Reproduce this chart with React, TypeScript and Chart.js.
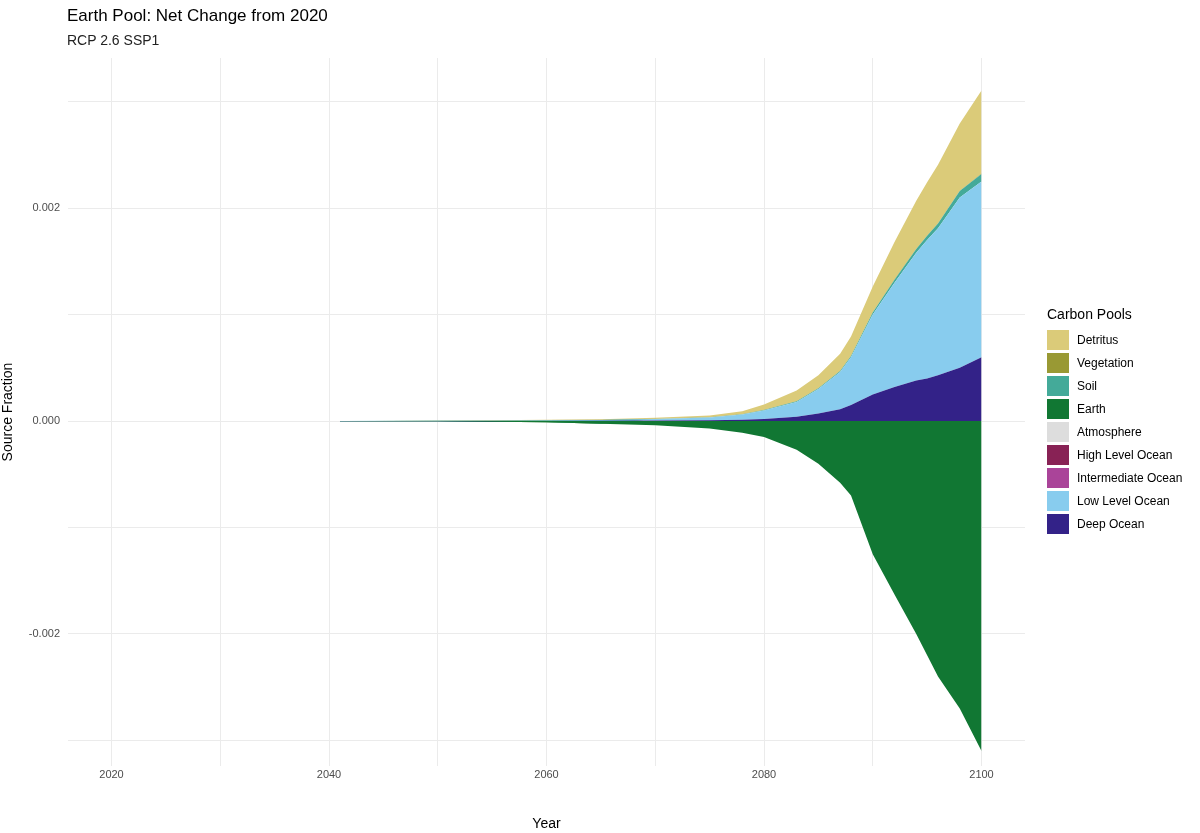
import React, { useEffect, useRef } from "react";
import { Chart, registerables } from "chart.js";
Chart.register(...registerables);

const years = [2041, 2050, 2055, 2060, 2065, 2070, 2075, 2078, 2080, 2083, 2085, 2087, 2088, 2090, 2092, 2094, 2095, 2096, 2098, 2100];
const deepOcean = [0, 0, 0, 0.000001, 0.000002, 0.000004, 0.000008, 0.000012, 0.00002, 0.00004, 0.00007, 0.00011, 0.00015, 0.00025, 0.00032, 0.00038, 0.0004, 0.00043, 0.0005, 0.0006];
const lowLevelOcean = [0.000001, 0.000002, 0.000003, 0.000005, 0.000008, 0.000015, 0.000025, 0.00005, 0.00008, 0.00014, 0.00023, 0.00035, 0.00045, 0.00075, 0.00098, 0.0012, 0.0013, 0.00138, 0.0016, 0.00165];
const soil = [0, 0, 0, 0, 0, 0.000001, 0.000002, 0.000003, 0.000004, 0.000006, 0.000008, 0.00001, 0.000012, 0.00002, 0.000028, 0.000036, 0.00004, 0.000045, 0.00006, 0.00007];
const vegetation = [0, 0.000001, 0.000002, 0.000003, 0.000002, 0.000002, 0.000002, 0.000002, 0.000002, 0.000002, 0.000002, 0.000002, 0.000002, 0.000003, 0.000003, 0.000003, 0.000003, 0.000003, 0.000004, 0.000004];
const detritus = [0, 0.000001, 0.000002, 0.000003, 0.000005, 0.000008, 0.000015, 0.000025, 0.00005, 0.0001, 0.00012, 0.00016, 0.00018, 0.00024, 0.00035, 0.00045, 0.0005, 0.00055, 0.00063, 0.00078];
const earth = [-0.000001, -0.000003, -0.000006, -0.000012, -0.000025, -0.00004, -0.00007, -0.00011, -0.00015, -0.00027, -0.0004, -0.00058, -0.0007, -0.00125, -0.00163, -0.002, -0.0022, -0.0024, -0.0027, -0.0031];
const zeros = years.map(() => 0);

const legendItems = [
  ["Detritus", "#dbcb79"],
  ["Vegetation", "#999934"],
  ["Soil", "#44aa99"],
  ["Earth", "#117733"],
  ["Atmosphere", "#dddddd"],
  ["High Level Ocean", "#882255"],
  ["Intermediate Ocean", "#aa4499"],
  ["Low Level Ocean", "#88ccee"],
  ["Deep Ocean", "#332288"],
];
const col = Object.fromEntries(legendItems);

export default function App() {
  const ref = useRef<HTMLCanvasElement>(null);
  useEffect(() => {
    const pts = (arr: number[]) => years.map((x, i) => ({ x, y: arr[i] }));
    const ds = (label: string, arr: number[], fill: any) => ({
      label, data: pts(arr), backgroundColor: col[label], borderWidth: 0, pointRadius: 0, fill,
    });
    const chart = new Chart(ref.current!, {
      type: "line",
      data: {
        datasets: [
          ds("Earth", earth, "origin"),
          ds("Atmosphere", zeros, false),
          ds("High Level Ocean", zeros, false),
          ds("Intermediate Ocean", zeros, false),
          ds("Deep Ocean", deepOcean, "origin"),
          ds("Low Level Ocean", lowLevelOcean, "-1"),
          ds("Soil", soil, "-1"),
          ds("Vegetation", vegetation, "-1"),
          ds("Detritus", detritus, "-1"),
        ] as any,
      },
      options: {
        animation: false,
        responsive: false,
        layout: { padding: { top: 58, right: 175, left: 0, bottom: 0 } },
        plugins: { legend: { display: false }, tooltip: { enabled: false } },
        scales: {
          x: {
            type: "linear", min: 2016, max: 2104,
            afterBuildTicks: (s: any) => { s.ticks = [2020, 2030, 2040, 2050, 2060, 2070, 2080, 2090, 2100].map((v) => ({ value: v })); },
            ticks: { callback: (v: any) => (v % 20 === 0 ? String(v) : ""), color: "#4d4d4d", font: { family: "Arial", size: 11 }, padding: 2 },
            grid: { color: "#ebebeb", drawTicks: false },
            border: { display: false },
            title: { display: true, text: "Year", color: "#000", font: { family: "Arial", size: 14 }, padding: { top: 14, bottom: 0 } },
            afterFit: (s: any) => { s.height = 67; },
          },
          y: {
            stacked: true, min: -0.00324, max: 0.00341,
            afterBuildTicks: (s: any) => { s.ticks = [-0.003, -0.002, -0.001, 0, 0.001, 0.002, 0.003].map((v) => ({ value: v })); },
            ticks: { callback: (v: any) => (Math.round(v * 1000) % 2 === 0 ? (Math.abs(v) < 1e-9 ? "0.000" : v.toFixed(3)) : ""), color: "#4d4d4d", font: { family: "Arial", size: 11 }, padding: 8 },
            grid: { color: "#ebebeb", drawTicks: false },
            border: { display: false },
            title: { display: true, text: "Source Fraction", color: "#000", font: { family: "Arial", size: 14 }, padding: 0 },
            afterFit: (s: any) => { s.width = 68; },
          },
        },
      },
    });
    return () => chart.destroy();
  }, []);
  return (
    <div style={{ position: "fixed", left: 0, top: 0, width: 1200, height: 833, background: "#fff", fontFamily: "Arial, 'Liberation Sans', sans-serif" }}>
      <canvas ref={ref} width={1200} height={833} style={{ position: "absolute", left: 0, top: 0 }} />
      <div style={{ position: "absolute", left: 67, top: 6, fontSize: 17, color: "#000" }}>Earth Pool: Net Change from 2020</div>
      <div style={{ position: "absolute", left: 67, top: 32, fontSize: 14, color: "#222" }}>RCP 2.6 SSP1</div>
      <div style={{ position: "absolute", left: 1047, top: 306 }}>
        <div style={{ fontSize: 14, marginBottom: 6 }}>Carbon Pools</div>
        {legendItems.map(([name, c]) => (
          <div key={name} style={{ display: "flex", alignItems: "center", height: 23 }}>
            <div style={{ width: 22, height: 20, background: c, marginRight: 8 }} />
            <span style={{ fontSize: 12 }}>{name}</span>
          </div>
        ))}
      </div>
    </div>
  );
}
